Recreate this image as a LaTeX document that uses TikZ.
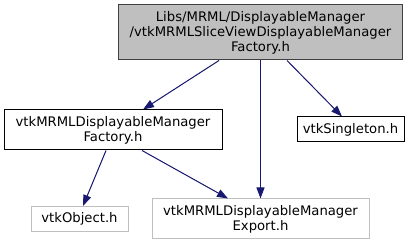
\documentclass[tikz,border=0pt]{standalone}
\usepackage{fontspec}
\setmainfont{DejaVu Sans}
\usetikzlibrary{arrows.meta}

\definecolor{edgeblue}{HTML}{191970}
\definecolor{nodegray}{HTML}{BFBFBF}

\tikzset{
  hfile/.style={draw=black, text=black, line width=1pt, inner sep=0pt, align=center,
    font=\fontsize{13.2}{15}\selectfont},
  extfile/.style={hfile, draw=nodegray},
  incl/.style={->, draw=edgeblue, fill=edgeblue, line width=1pt}
}

\begin{document}
\begin{tikzpicture}[x=1pt, y=-1pt, >={Triangle[length=11pt, width=8pt]}]
    \useasboundingbox (0,0) rectangle (420,245);
    % header being documented, and what it pulls in
    \node[hfile, fill=nodegray, draw=black!75, minimum width=284pt, minimum height=55pt] (slicefactory) at (260.5,32.5)
      {Libs/MRML/DisplayableManager\\/vtkMRMLSliceViewDisplayableManager\\Factory.h};
    \node[hfile, minimum width=218pt, minimum height=40pt] (factory) at (113,130)
      {vtkMRMLDisplayableManager\\Factory.h};
    \node[hfile, minimum width=107pt, minimum height=25pt] (singleton) at (350.5,129.5) {vtkSingleton.h};
    \node[extfile, minimum width=97pt, minimum height=25pt] (object) at (79.5,219) {vtkObject.h};
    \node[extfile, minimum width=217pt, minimum height=40pt] (export) at (260.5,219)
      {vtkMRMLDisplayableManager\\Export.h};

    \draw[incl] ([xshift=-41.5pt]slicefactory.south) -- ([xshift=30pt]factory.north);
    \draw[incl] (slicefactory.south -| export.north) -- (export.north);
    \draw[incl] ([xshift=26.5pt]slicefactory.south) -- ([xshift=-8.5pt]singleton.north);
    \draw[incl] ([xshift=-7pt]factory.south) -- ([xshift=3.5pt]object.north);
    \draw[incl] ([xshift=29pt]factory.south) -- ([xshift=-32.5pt]export.north);
  \end{tikzpicture}
\end{document}
